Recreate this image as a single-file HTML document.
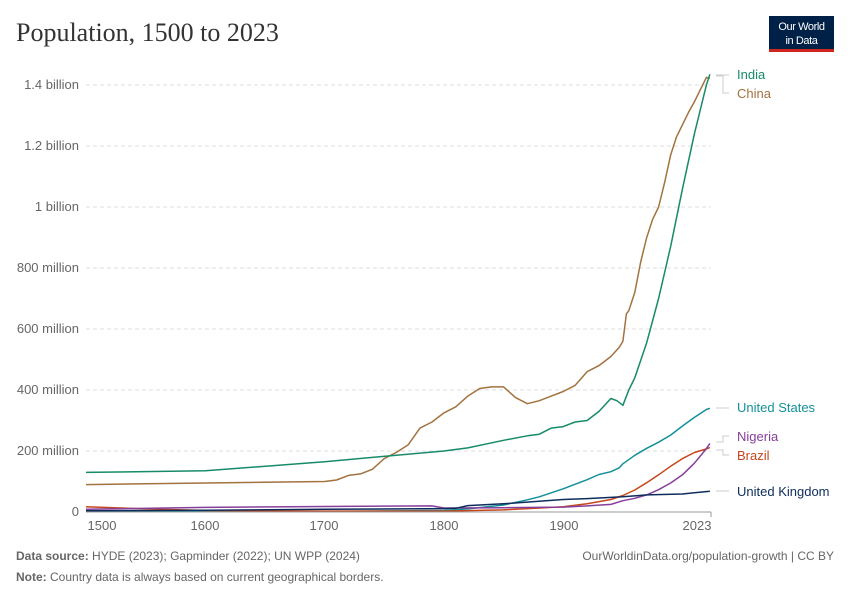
<!DOCTYPE html>
<html><head><meta charset="utf-8"><style>
body{margin:0;background:#fff;width:850px;height:600px;overflow:hidden;font-family:"Liberation Sans",sans-serif}
</style></head><body>
<svg id="s" width="850" height="600" xmlns="http://www.w3.org/2000/svg" font-family="Liberation Sans, sans-serif">
<text x="16" y="41" font-family="Liberation Serif, serif" font-size="26" fill="#333">Population, 1500 to 2023</text>
<rect x="769" y="16" width="65" height="34" fill="#002147"/>
<rect x="769" y="49" width="65" height="3" fill="#ce261e"/>
<text x="801.5" y="30" font-size="11" fill="#fff" text-anchor="middle" letter-spacing="-0.4">Our World</text>
<text x="801.5" y="44" font-size="11" fill="#fff" text-anchor="middle" letter-spacing="-0.4">in Data</text>
<g id="grid" font-size="13" fill="#666" stroke-width="1"></g>
<g id="lines" fill="none" stroke-width="1.5" stroke-linejoin="round"></g>
<line x1="86" y1="512" x2="711" y2="512" stroke="#999"/>
<g font-size="13" fill="#666" text-anchor="middle">
<line x1="711" y1="512" x2="711" y2="517" stroke="#999"/>
<text x="102" y="530">1500</text><text x="205" y="530">1600</text><text x="324" y="530">1700</text><text x="444" y="530">1800</text><text x="564" y="530">1900</text><text x="697" y="530">2023</text>
</g>
<g font-size="13">
<text x="737" y="79" fill="#178a6a">India</text>
<text x="737" y="98" fill="#a2723f">China</text>
<text x="737" y="412" fill="#13909a">United States</text>
<text x="737" y="441" fill="#883e9b">Nigeria</text>
<text x="737" y="460" fill="#c4471d">Brazil</text>
<text x="737" y="496" fill="#0e2d5c">United Kingdom</text>
</g>
<g stroke="#ccc" fill="none">
<path d="M716 75h13v0"/><path d="M716 76h7v17h6"/>
<path d="M716 408h13"/>
<path d="M716 442h7v-6h6"/><path d="M716 450h7v5h6"/>
<path d="M716 491h13"/>
</g>
<text x="16" y="560" font-size="12" fill="#666"><tspan font-weight="bold">Data source:</tspan> HYDE (2023); Gapminder (2022); UN WPP (2024)</text>
<text x="834" y="560" font-size="12" fill="#666" text-anchor="end">OurWorldinData.org/population-growth | CC BY</text>
<text x="16" y="581" font-size="12" fill="#666"><tspan font-weight="bold">Note:</tspan> Country data is always based on current geographical borders.</text>
</svg>
<script>
var X=function(y){return 86+(y-1500)*1.193},Y=function(v){return 512-v*0.305};
var g=document.getElementById('grid'),h='';
[[200,'200 million'],[400,'400 million'],[600,'600 million'],[800,'800 million'],[1000,'1 billion'],[1200,'1.2 billion'],[1400,'1.4 billion']].forEach(function(t){var y=Y(t[0]);h+='<line x1="86" x2="711" y1="'+y+'" y2="'+y+'" stroke="#ddd" stroke-dasharray="4,3"/><text x="79" y="'+(y+4)+'" text-anchor="end">'+t[1]+'</text>';});
h+='<text x="79" y="516" text-anchor="end">0</text>';
g.innerHTML=h;
var S={
'#a2723f':[[1500,90],[1600,95],[1700,100],[1710,105],[1720,120],[1730,125],[1740,140],[1750,175],[1760,195],[1770,220],[1780,275],[1790,295],[1800,325],[1810,345],[1820,380],[1830,405],[1840,410],[1850,410],[1860,375],[1870,355],[1880,365],[1890,380],[1900,395],[1910,415],[1920,460],[1930,480],[1940,510],[1947,540],[1950,560],[1953,650],[1955,660],[1960,720],[1965,820],[1970,900],[1975,960],[1980,1000],[1985,1080],[1990,1170],[1995,1230],[2000,1270],[2005,1310],[2010,1345],[2015,1385],[2020,1425],[2023,1422]],
'#178a6a':[[1500,130],[1600,135],[1700,165],[1800,200],[1820,210],[1850,235],[1870,250],[1880,255],[1890,275],[1900,280],[1910,295],[1920,300],[1930,330],[1940,372],[1945,365],[1950,350],[1955,400],[1960,440],[1970,555],[1980,700],[1990,870],[2000,1060],[2010,1240],[2020,1400],[2023,1435]],
'#13909a':[[1500,2],[1700,2],[1800,5],[1820,10],[1850,23],[1870,40],[1880,50],[1900,76],[1920,106],[1930,123],[1940,132],[1947,145],[1950,158],[1960,186],[1970,209],[1980,229],[1990,252],[2000,282],[2010,310],[2020,336],[2023,340]],
'#c4471d':[[1500,17],[1550,10],[1600,5],[1700,3],[1800,3],[1850,7],[1900,17],[1920,27],[1940,41],[1950,54],[1960,72],[1970,96],[1980,122],[1990,150],[2000,175],[2010,195],[2020,207],[2023,211]],
'#883e9b':[[1500,9],[1600,15],[1700,18],[1790,20],[1800,13],[1850,14],[1900,16],[1920,20],[1940,25],[1950,37],[1960,45],[1970,56],[1980,73],[1990,95],[2000,122],[2010,160],[2020,208],[2023,225]],
'#0e2d5c':[[1500,4],[1600,6],[1700,9],[1800,11],[1810,12],[1820,21],[1850,27],[1900,41],[1920,44],[1950,50],[1970,56],[2000,59],[2010,63],[2023,68]]};
var o='';for(var c in S){o+='<path stroke="'+c+'" d="M'+S[c].map(function(p){return X(p[0]).toFixed(1)+' '+Y(p[1]).toFixed(1)}).join('L')+'"/>';}
document.getElementById('lines').innerHTML=o;
</script>
</body></html>
